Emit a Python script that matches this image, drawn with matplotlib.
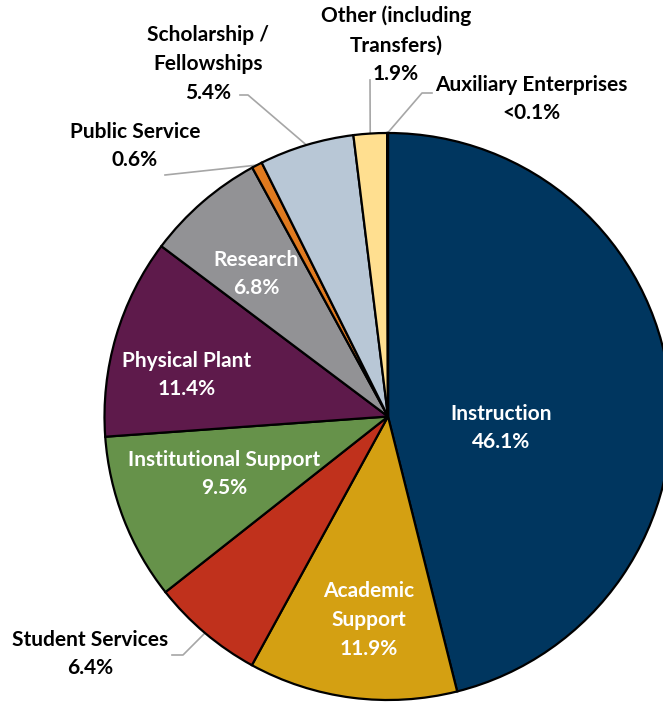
import numpy as np
import matplotlib.pyplot as plt

# Expense shares (percent), clockwise from 12 o'clock
categories = ["Instruction", "Academic\nSupport", "Student Services", "Institutional Support",
              "Physical Plant", "Research", "Public Service", "Scholarship /\nFellowships",
              "Other (including\nTransfers)", "Auxiliary Enterprises"]
values = [46.1, 11.9, 6.4, 9.5, 11.4, 6.8, 0.6, 5.4, 1.9, 0.05]
pct_labels = ["46.1%", "11.9%", "6.4%", "9.5%", "11.4%", "6.8%", "0.6%", "5.4%", "1.9%", "<0.1%"]
colors = ["#00365F", "#D4A012", "#C0311C", "#66924A", "#5E1A4B", "#929295",
          "#E07A1F", "#B8C7D6", "#FFDF90", "#111111"]

W, H = 663, 702
plt.rcParams['font.family'] = ['Lato', 'DejaVu Sans']

fig = plt.figure(figsize=(W / 100, H / 100), dpi=100)
ax = fig.add_axes([0, 0, 1, 1])

cx, cy, r = 388, H - 416.5, 283.5


def py(y):
    return H - y


wedges, _ = ax.pie(values, colors=colors, startangle=90, counterclock=False,
                   center=(cx, cy), radius=r, frame=True,
                   wedgeprops=dict(edgecolor='black', linewidth=1.6))
ax.set_xlim(0, W)
ax.set_ylim(0, H)
ax.set_aspect('equal')
ax.axis('off')

fs = 15
ls = 1.55
# labels inside the slices (white)
inside = {0: (501, 428), 1: (369, 620), 3: (224, 474), 4: (187, 375), 5: (256, 274)}
for i, (x, y) in inside.items():
    ax.text(x, py(y), categories[i] + "\n" + pct_labels[i], color='white',
            fontsize=fs, fontweight='bold', ha='center', va='center', linespacing=ls)

# labels outside with gray leader lines
outside = {
    2: (90, 654, (183, 655), (172, 655)),
    6: (135, 146, (165, 175), None),
    7: (208, 64, (248, 95), (240, 95)),
    8: (396, 45, (370, 80), None),
    9: (531, 99, (422, 93), (432, 93)),
}
for i, (x, y, p1, p0) in outside.items():
    ax.text(x, py(y), categories[i] + "\n" + pct_labels[i], color='black',
            fontsize=fs, fontweight='bold', ha='center', va='center', linespacing=ls)
    w = wedges[i]
    mid = np.deg2rad((w.theta1 + w.theta2) / 2)
    ex, ey = cx + r * np.cos(mid), cy + r * np.sin(mid)
    xs = ([p0[0]] if p0 else []) + [p1[0], ex]
    ys = ([py(p0[1])] if p0 else []) + [py(p1[1]), ey]
    ax.plot(xs, ys, color='#A6A6A6', linewidth=1.2, zorder=0.5)

fig.savefig("out.png", dpi=100)
